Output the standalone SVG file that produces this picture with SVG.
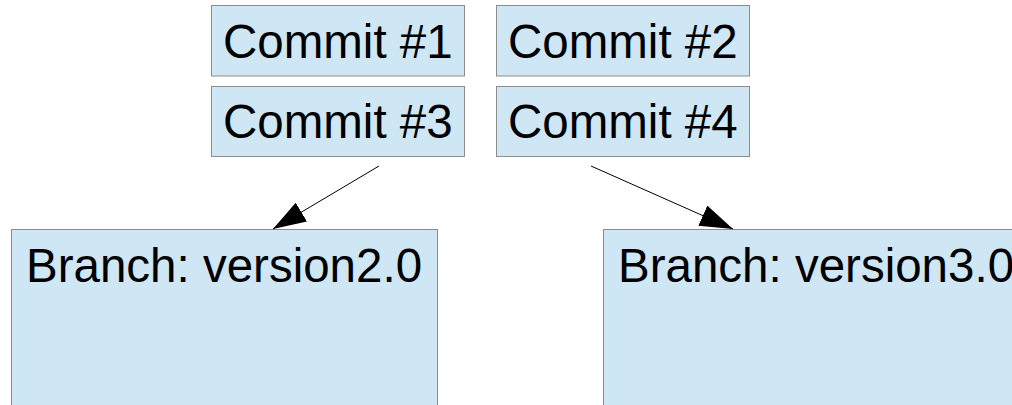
<svg xmlns="http://www.w3.org/2000/svg" width="1012" height="405" viewBox="0 0 1012 405">
  <style>
    .box { fill: #cfe6f4; stroke: #8c8c8c; stroke-width: 1; }
    .label { font-family: "Liberation Sans", Arial, sans-serif; font-size: 47.5px; fill: #000; }
    .edge { stroke: #000; stroke-width: 1; fill: none; }
  </style>
  <defs>
    <marker id="head" viewBox="0 0 33 22" refX="33" refY="11" markerWidth="33" markerHeight="22" markerUnits="userSpaceOnUse" orient="auto">
      <path d="M0,0 L33,11 L0,22 z" fill="#000"/>
    </marker>
  </defs>
  <rect width="1012" height="405" fill="#fff"/>

  <g id="commit1">
    <rect class="box" x="211.5" y="5.5" width="253" height="70.5"/>
    <text class="label" x="223" y="57.5">Commit #1</text>
  </g>
  <g id="commit2">
    <rect class="box" x="496.5" y="5.5" width="253" height="70.5"/>
    <text class="label" x="508" y="57.5">Commit #2</text>
  </g>
  <g id="commit3">
    <rect class="box" x="211.5" y="86.5" width="253" height="70"/>
    <text class="label" x="223" y="138">Commit #3</text>
  </g>
  <g id="commit4">
    <rect class="box" x="496.5" y="86.5" width="253" height="70"/>
    <text class="label" x="508" y="138">Commit #4</text>
  </g>

  <g id="branch-v2">
    <rect class="box" x="11.5" y="229.5" width="426" height="190"/>
    <text class="label" x="26" y="281.5">Branch: version2.0</text>
  </g>
  <g id="branch-v3">
    <rect class="box" x="603.5" y="229.5" width="430" height="190"/>
    <text class="label" x="618" y="281.5">Branch: version3.0</text>
  </g>

  <g id="connectors">
    <line class="edge" x1="379" y1="166" x2="273" y2="229" marker-end="url(#head)"/>
    <line class="edge" x1="591" y1="166" x2="733" y2="229" marker-end="url(#head)"/>
  </g>
</svg>
